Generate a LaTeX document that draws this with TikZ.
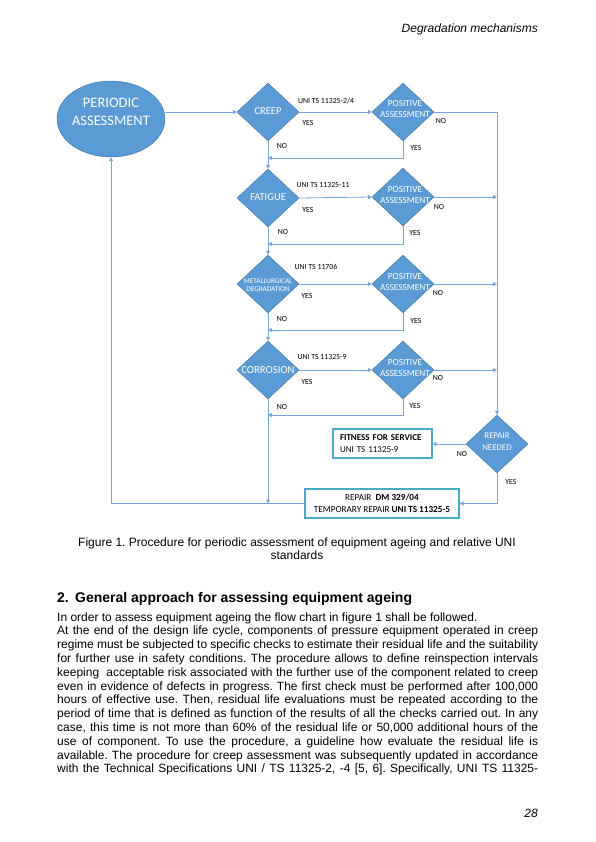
\documentclass[tikz,border=0pt]{standalone}
\usepackage{fontspec}
\setmainfont{Liberation Sans}
\newfontfamily\calfont{Carlito}
\usetikzlibrary{shapes.geometric,arrows.meta}
\definecolor{diafill}{RGB}{91,155,213}
\definecolor{diaedge}{RGB}{65,113,156}
\definecolor{linecol}{RGB}{120,165,215}
\definecolor{boxcol}{RGB}{75,172,198}
\frenchspacing
\begin{document}
\begin{tikzpicture}[x=1pt,y=-1pt,
  dia/.style={diamond, draw=diaedge, fill=diafill, line width=0.4pt, minimum width=62pt, minimum height=58pt, inner sep=0pt},
  dtxt/.style={text=white, align=center, inner sep=0pt},
  lbl/.style={font=\calfont\fontsize{7.8}{9}\selectfont, inner sep=0pt},
  arr/.style={draw=linecol, line width=0.8pt, -{Triangle[length=4pt,width=4pt]}},
  flowbox/.style={draw=boxcol, line width=1.2pt, fill=white, minimum height=29pt, inner sep=0pt},
  body/.style={anchor=base west, inner sep=0pt, font=\fontsize{12}{13.8}\selectfont\frenchspacing}
]
\useasboundingbox (0,0) rectangle (596,842);

% header and footer
\node[anchor=base east, inner sep=0pt, font=\fontsize{12}{14}\selectfont\itshape] (hdr) at (538,33) {Degradation mechanisms};
\node[anchor=base east, inner sep=0pt, font=\fontsize{12}{14}\selectfont\itshape] (pgno) at (538,817) {28};

% flowchart shapes
\node[ellipse, draw=diaedge, fill=diafill, line width=0.4pt, minimum width=108pt, minimum height=76pt, inner sep=0pt] (pa) at (111,119) {};
\node[dtxt, font=\calfont\fontsize{14.5}{18}\selectfont] (patxt) at (111,112) {PERIODIC\\ASSESSMENT};

\node[dia] (creep) at (268,112) {};
\node[dtxt, font=\calfont\fontsize{10.5}{12}\selectfont] (creeptxt) at (268,111) {CREEP};
\node[dia] (fat) at (268,198) {};
\node[dtxt, font=\calfont\fontsize{10.5}{12}\selectfont] (fattxt) at (268,197) {FATIGUE};
\node[dia] (met) at (268,284) {};
\node[dtxt, font=\calfont\fontsize{7.2}{8.5}\selectfont] (mettxt) at (268,285) {METALLURGICAL\\DEGRADATION};
\node[dia] (cor) at (268,370) {};
\node[dtxt, font=\calfont\fontsize{10.8}{12}\selectfont] (cortxt) at (268,370) {CORROSION};

\node[dia] (pa1) at (403,112) {};
\node[dtxt, font=\calfont\fontsize{9.3}{10.5}\selectfont] (pa1txt) at (405,109) {POSITIVE\\ASSESSMENT};
\node[dia] (pa2) at (403,197) {};
\node[dtxt, font=\calfont\fontsize{9.3}{11.5}\selectfont] (pa2txt) at (405,195) {POSITIVE\\ASSESSMENT};
\node[dia] (pa3) at (403,284) {};
\node[dtxt, font=\calfont\fontsize{9.3}{11}\selectfont] (pa3txt) at (405,282) {POSITIVE\\ASSESSMENT};
\node[dia] (pa4) at (403,370) {};
\node[dtxt, font=\calfont\fontsize{9.3}{10.5}\selectfont] (pa4txt) at (405,368) {POSITIVE\\ASSESSMENT};

\node[dia] (rn) at (497,444) {};
\node[dtxt, font=\calfont\fontsize{8.8}{12}\selectfont] (rntxt) at (497,442) {REPAIR\\NEEDED};

\node[flowbox, minimum width=99pt, text width=85pt, align=left, font=\calfont\fontsize{9}{12}\selectfont] (fit) at (382.5,443.5) {\textbf{FITNESS FOR SERVICE}\\UNI TS 11325-9};
\node[flowbox, minimum width=154pt, align=center, font=\calfont\fontsize{9.2}{11.5}\selectfont] (rep) at (382,503.5) {REPAIR\ \ \textbf{DM 329/04}\\TEMPORARY REPAIR \textbf{UNI TS 11325-5}};

% junction points
\coordinate (j1) at (268,158);
\coordinate (j2) at (268,244);
\coordinate (j3) at (268,330);
\coordinate (j4) at (268,415);

% connectors
\draw[arr] (pa.east |- creep.west) -- (creep.west);
\draw[arr] (creep.east) -- (pa1.west);
\draw[arr] (fat.east) -- (pa2.west);
\draw[arr] (met.east) -- (pa3.west);
\draw[arr] (cor.east) -- (pa4.west);
\draw[arr] (creep.south) -- (fat.north);
\draw[arr] (fat.south) -- (met.north);
\draw[arr] (met.south) -- (cor.north);
\draw[arr] (cor.south) -- (cor.south |- rep.west);
\draw[arr] (pa1.south) |- (j1);
\draw[arr] (pa2.south) |- (j2);
\draw[arr] (pa3.south) |- (j3);
\draw[arr] (pa4.south) |- (j4);
\draw[arr] (pa1.east) -- (pa1.east -| rn.north) -- (rn.north);
\draw[arr] (pa2.east) -- (pa2.east -| rn.north);
\draw[arr] (pa3.east) -- (pa3.east -| rn.north);
\draw[arr] (pa4.east) -- (pa4.east -| rn.north);
\draw[arr] (rn.west) -- (rn.west -| fit.east);
\draw[arr] (rn.south) |- (rep.east);
\draw[arr] (rep.west) -| (pa.south);

% labels
\node[lbl] (l1) at (326,101) {UNI TS 11325-2/4};
\node[lbl] (l2) at (308,123) {YES};
\node[lbl] (l3) at (441,121) {NO};
\node[lbl] (l4) at (416,148) {YES};
\node[lbl] (l5) at (282,146) {NO};
\node[lbl] (l6) at (323,185) {UNI TS 11325-11};
\node[lbl] (l7) at (308,210) {YES};
\node[lbl] (l8) at (439,207) {NO};
\node[lbl] (l9) at (415,233) {YES};
\node[lbl] (l10) at (283,232) {NO};
\node[lbl] (l11) at (316,267) {UNI TS 11706};
\node[lbl] (l12) at (307,296) {YES};
\node[lbl] (l13) at (438,293) {NO};
\node[lbl] (l14) at (416,321) {YES};
\node[lbl] (l15) at (282,319) {NO};
\node[lbl] (l16) at (322,357) {UNI TS 11325-9};
\node[lbl] (l17) at (307,382) {YES};
\node[lbl] (l18) at (438,378) {NO};
\node[lbl] (l19) at (415,406) {YES};
\node[lbl] (l20) at (282,407) {NO};
\node[lbl] (l21) at (462,454) {NO};
\node[lbl] (l22) at (511,482) {YES};

% caption
\node[anchor=base, inner sep=0pt, font=\fontsize{12}{13.8}\selectfont\frenchspacing] (cap1) at (297,546) {Figure 1. Procedure for periodic assessment of equipment ageing and relative UNI};
\node[anchor=base, inner sep=0pt, font=\fontsize{12}{13.8}\selectfont] (cap2) at (297,559.8) {standards};

% heading
\node[anchor=base west, inner sep=0pt, font=\fontsize{14}{16}\selectfont\bfseries] (hnum) at (57,602) {2.};
\node[anchor=base west, inner sep=0pt, font=\fontsize{14}{16}\selectfont\bfseries] (htxt) at (75,602) {General approach for assessing equipment ageing};

% body
\node[body] (b1) at (57,621) {In order to assess equipment ageing the flow chart in figure 1 shall be followed.};
\node[body] (b2) at (57,634.8) {\makebox[481pt][s]{At the end of the design life cycle, components of pressure equipment operated in creep}};
\node[body] (b3) at (57,648.6) {\makebox[481pt][s]{regime must be subjected to specific checks to estimate their residual life and the suitability}};
\node[body] (b4) at (57,662.4) {\makebox[481pt][s]{for further use in safety conditions. The procedure allows to define reinspection intervals}};
\node[body] (b5) at (57,676.2) {\makebox[481pt][s]{keeping\ \ acceptable risk associated with the further use of the component related to creep}};
\node[body] (b6) at (57,690) {\makebox[481pt][s]{even in evidence of defects in progress. The first check must be performed after 100,000}};
\node[body] (b7) at (57,703.8) {\makebox[481pt][s]{hours of effective use. Then, residual life evaluations must be repeated according to the}};
\node[body] (b8) at (57,717.6) {\makebox[481pt][s]{period of time that is defined as function of the results of all the checks carried out. In any}};
\node[body] (b9) at (57,731.4) {\makebox[481pt][s]{case, this time is not more than 60\% of the residual life or 50,000 additional hours of the}};
\node[body] (b10) at (57,745.2) {\makebox[481pt][s]{use of component. To use the procedure, a guideline how evaluate the residual life is}};
\node[body] (b11) at (57,759) {\makebox[481pt][s]{available. The procedure for creep assessment was subsequently updated in accordance}};
\node[body] (b12) at (57,772.8) {\makebox[481pt][s]{with the Technical Specifications UNI / TS 11325-2, -4 [5, 6]. Specifically, UNI TS 11325-}};
\end{tikzpicture}
\end{document}
